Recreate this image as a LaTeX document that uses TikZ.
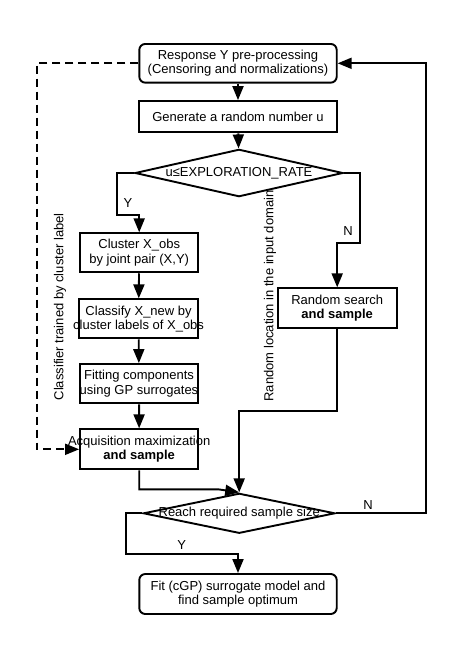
\documentclass[tikz,border=0pt]{standalone}
\usepackage{fontspec}
\setmainfont{Liberation Sans}
\usetikzlibrary{arrows.meta,shapes.geometric}
\newcommand\zw[1]{\makebox[0pt]{#1}}
\begin{document}
\begin{tikzpicture}[x=1pt,y=-1pt,
  every node/.style={font=\fontsize{13}{14.4}\selectfont},
  conn/.style={line width=1.9pt, -{Triangle[length=14pt,width=11pt]}},
  dashline/.style={line width=1.9pt, dash pattern=on 8pt off 5pt, -{Triangle[length=14pt,width=11pt]}},
  box/.style={draw, line width=1.9pt, fill=white, inner sep=0pt, align=center},
  rbox/.style={box, rounded corners=6pt},
  dia/.style={draw, diamond, line width=1.9pt, fill=white, inner sep=0pt},
  lab/.style={inner sep=1pt}]
\useasboundingbox (0,0) rectangle (461,654);
% rotated labels (drawn first, the diamond covers the end)
\node[lab, rotate=90] (lblL) at (60,306.7) {Classifier trained by cluster label};
\node[lab, rotate=90] (lblR) at (270,296) {Random location in the input domain};

\node[rbox, minimum width=197.4pt, minimum height=38.7pt] (top) at (238,63.3)
  {\zw{Response Y pre-processing}\\\zw{(Censoring and normalizations)}};
\node[box, minimum width=197.4pt, minimum height=31.3pt] (gen) at (238,116.7)
  {\zw{Generate a random number u}};
\node[dia, minimum width=208pt, minimum height=47.4pt,
  label={[lab]center:u≤EXPLORATION\_RATE}] (d1) at (239,173) {};
\node[box, minimum width=118.3pt, minimum height=39pt] (cluster) at (139.2,252.8)
  {\zw{Cluster X\_obs}\\\zw{by joint pair (X,Y)}};
\node[box, minimum width=119pt, minimum height=39pt] (classify) at (138.6,318.8)
  {\zw{Classify X\_new by}\\\zw{cluster labels of X\_obs}};
\node[box, minimum width=118.6pt, minimum height=39.3pt] (fitting) at (139,383.7)
  {\zw{Fitting components}\\\zw{using GP surrogates}};
\node[box, minimum width=118.3pt, minimum height=40pt] (acq) at (139.2,449.3)
  {\zw{Acquisition maximization}\\\zw{\bfseries and sample}};
\node[box, minimum width=119pt, minimum height=39.4pt] (rand) at (337.2,308)
  {\zw{Random search}\\\zw{\bfseries and sample}};
\node[dia, minimum width=191.7pt, minimum height=40pt,
  label={[lab]center:Reach required sample size}] (d2) at (239.2,513.3) {};
\node[rbox, minimum width=197.4pt, minimum height=40pt] (fin) at (238,594)
  {\zw{Fit (cGP) surrogate model and}\\\zw{find sample optimum}};

% connectors
\draw[conn] (top) -- (gen);
\draw[conn] (gen) -- (d1);
\draw[conn] (d1.west) -- (117.3,173) -- (117.3,215) -- (139.2,215) -- (cluster.north);
\node[lab] (y1) at (128,203) {Y};
\draw[conn] (d1.east) -- (360,173) -- (360,242.7) -- (337.2,242.7) -- (rand.north);
\node[lab] (n1) at (348,231) {N};
\draw[conn] (cluster) -- (classify);
\draw[conn] (classify) -- (fitting);
\draw[conn] (fitting) -- (acq);
\draw[conn] (rand.south) -- (337.2,410.7) -- (239.2,410.7) -- (d2.north);
\draw[conn] (acq.south) -- (139.2,489.3) -- (218,489.3) -- (d2.north);
\draw[conn] (d2.east) -- (426,513.3) -- (426,63.3) -- (top.east);
\node[lab] (n2) at (368,505) {N};
\draw[conn] (d2.west) -- (125.7,513.3) -- (125.7,554) -- (238,554) -- (fin.north);
\node[lab] (y2) at (181.7,545) {Y};
\draw[dashline] (top.west) -- (36.7,63.3) -- (36.7,449.3) -- (acq.west);
\end{tikzpicture}
\end{document}
